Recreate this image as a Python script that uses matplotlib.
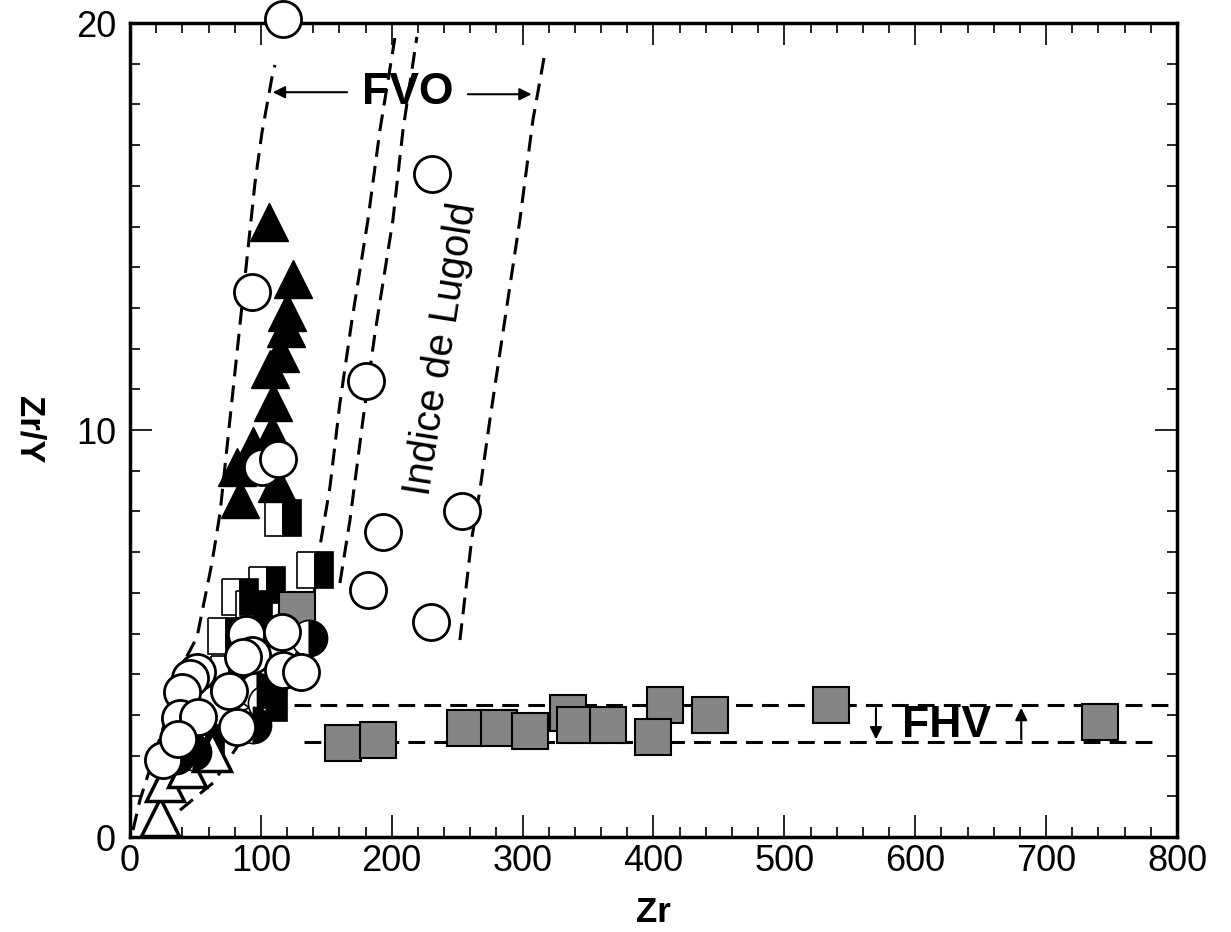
import matplotlib
matplotlib.use("Agg")
import matplotlib.pyplot as plt
from matplotlib.ticker import MultipleLocator

plt.rcParams["font.family"] = ["Liberation Sans", "DejaVu Sans"]

# ── data (Zr ppm, Zr/Y) ──────────────────────────────────────────────
open_circle_x = [117, 231, 93, 180, 193, 254, 182, 230, 101, 113,
                 51, 46, 40, 38, 52, 25, 37, 89, 116, 93, 86, 117, 131, 76, 82]
open_circle_y = [20.1, 16.3, 13.4, 11.2, 7.5, 8.0, 6.07, 5.28, 9.1, 9.3,
                 4.05, 3.9, 3.56, 2.92, 2.95, 1.9, 2.4, 5.0, 5.04, 4.47, 4.42, 4.1, 4.05, 3.6, 2.7]

half_circle_x = [137, 97, 94, 48, 35, 104]
half_circle_y = [4.9, 3.6, 2.75, 2.1, 2.0, 3.3]

half_square_x = [117, 141, 84, 105, 76, 73, 106, 58, 95]
half_square_y = [7.84, 6.55, 5.9, 6.2, 4.0, 4.95, 3.3, 2.3, 5.6]

filled_tri_x = [106, 124.5, 120, 119, 114.6, 107, 109, 108.5, 94, 82, 84, 112]
filled_tri_y = [15.1, 13.7, 12.9, 12.5, 11.9, 11.5, 10.7, 9.9, 9.6, 9.1, 8.3, 8.7]

open_tri_x = [23, 27, 43.5, 63]
open_tri_y = [0.5, 1.35, 1.7, 2.1]

gray_sq_x = [162.7, 189.5, 256, 282, 306, 334.6, 340, 365, 408.7, 399.5, 443, 536, 741, 127.6]
gray_sq_y = [2.31, 2.38, 2.68, 2.68, 2.6, 3.05, 2.75, 2.75, 3.24, 2.46, 3.0, 3.24, 2.83, 5.58]

# field boundaries (dashed)
curve1_x = [2.3, 7.6, 42.0, 51.2, 62.6, 68.8, 95.5, 100.8, 108.5, 110.8]
curve1_y = [0.17, 0.91, 4.35, 4.91, 6.73, 7.96, 16.07, 17.3, 18.67, 18.97]
curve2_x = [38.2, 63.4, 81.7, 109.2, 129.9, 139.8, 145.1, 152.8, 160.4, 169.6, 181.8, 191.0, 202.4]
curve2_y = [0.66, 1.33, 2.21, 3.37, 4.67, 5.75, 7.13, 8.60, 10.66, 12.70, 15.16, 17.37, 19.63]
curve3_x = [160.4, 168.1, 178.0, 187.2, 200.9, 208.6, 219.2]
curve3_y = [6.24, 7.79, 10.25, 12.38, 15.16, 17.37, 19.66]
curve4_x = [252.1, 261.3, 267.4, 275.0, 284.9, 297.9, 307.9, 317.0]
curve4_y = [4.84, 7.37, 8.53, 10.25, 12.38, 15.16, 17.62, 19.26]
fhv_upper_x = [125, 795]
fhv_upper_y = [3.24, 3.24]
fhv_lower_x = [133, 785]
fhv_lower_y = [2.33, 2.33]

fig = plt.figure(figsize=(12.31, 9.32), dpi=100)
ax = fig.add_axes([0.1056, 0.1019, 0.8505, 0.8734])

dash = dict(color="black", lw=2.2, dashes=(5.5, 3))
for cx, cy in [(curve1_x, curve1_y), (curve2_x, curve2_y), (curve3_x, curve3_y),
               (curve4_x, curve4_y), (fhv_upper_x, fhv_upper_y), (fhv_lower_x, fhv_lower_y)]:
    ax.plot(cx, cy, **dash, zorder=1)

ms = 26
ax.plot(half_square_x, half_square_y, "s", ms=ms, fillstyle="left",
        markerfacecolor="white", markerfacecoloralt="black", markeredgecolor="black", mew=1.2, zorder=2)
ax.plot(gray_sq_x, gray_sq_y, "s", ms=ms, markerfacecolor="#858585",
        markeredgecolor="black", mew=1.5, zorder=2)
ax.plot(filled_tri_x, filled_tri_y, "^", ms=ms + 2, color="black", zorder=3)
ax.plot(open_tri_x, open_tri_y, "^", ms=ms + 2, markerfacecolor="white",
        markeredgecolor="black", mew=2.5, zorder=3)
ax.plot(half_circle_x, half_circle_y, "o", ms=ms, fillstyle="left",
        markerfacecolor="white", markerfacecoloralt="black", markeredgecolor="black", mew=1.2, zorder=4)
ax.plot(open_circle_x, open_circle_y, "o", ms=ms, markerfacecolor="white",
        markeredgecolor="black", mew=2, zorder=5, clip_on=False)

# FVO label and arrows
ax.text(212, 18.3, "FVO", fontsize=32, fontweight="bold", ha="center", va="center")
arr = dict(arrowstyle="-|>", lw=1.5, color="black", mutation_scale=18)
ax.annotate("", xy=(107, 18.3), xytext=(168, 18.3), arrowprops=arr)
ax.annotate("", xy=(309, 18.25), xytext=(256, 18.25), arrowprops=arr)

# FHV label and arrows
ax.text(624, 2.75, "FHV", fontsize=32, fontweight="bold", ha="center", va="center")
ax.annotate("", xy=(570, 2.33), xytext=(570, 3.24), arrowprops=arr)
ax.annotate("", xy=(681, 3.24), xytext=(681, 2.33), arrowprops=arr)

ax.text(238, 12.0, "Indice de Lugold", fontsize=29, rotation=81,
        ha="center", va="center", rotation_mode="anchor")

ax.set_xlim(0, 800)
ax.set_ylim(0, 20)
ax.xaxis.set_major_locator(MultipleLocator(100))
ax.xaxis.set_minor_locator(MultipleLocator(20))
ax.yaxis.set_major_locator(MultipleLocator(10))
ax.yaxis.set_minor_locator(MultipleLocator(1))
ax.tick_params(which="both", direction="in", top=True, right=True, labelsize=26, width=1.2)
ax.tick_params(which="major", length=16)
ax.tick_params(which="minor", length=7)
ax.tick_params(axis="x", which="major", pad=5)
ax.tick_params(axis="y", which="major", pad=10)
for s in ax.spines.values():
    s.set_linewidth(2.5)

ax.set_xlabel("Zr", fontsize=25, fontweight="bold", labelpad=12)
ax.set_ylabel("Zr/Y", fontsize=25, fontweight="bold", rotation=270, labelpad=34, va="center")

fig.savefig("out.png", dpi=100)
